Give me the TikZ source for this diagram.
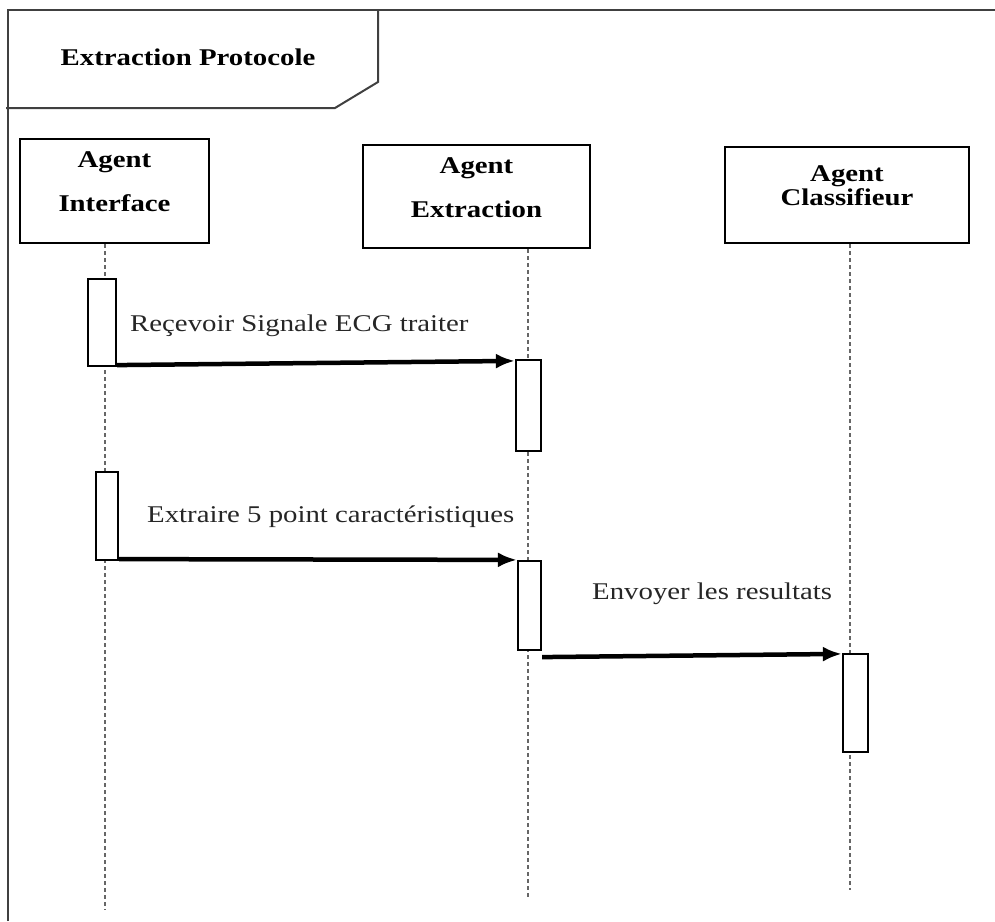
\documentclass[tikz,border=0pt]{standalone}
\usepackage{fontspec}
\usepackage{graphicx}
\usetikzlibrary{arrows.meta}
\setmainfont{Liberation Serif}
\newcommand{\wtxt}[1]{\scalebox{1.2}[1]{#1}}

\begin{document}
\begin{tikzpicture}[x=1pt, y=-1pt,
        frame/.style={draw=black!75, line width=2pt},
        agent/.style={draw, line width=2.4pt, inner sep=0pt},
        agtext/.style={font=\fontsize{24}{28}\selectfont\bfseries, align=center, inner sep=0pt},
        life/.style={draw=black!60, line width=2.2pt, dash pattern=on 4pt off 3pt},
        bar/.style={draw, fill=white, line width=2.2pt, inner sep=0pt},
        msg/.style={line width=4.5pt, -{Latex[length=19pt, width=15pt]}},
        msgtext/.style={font=\fontsize{24}{28}\selectfont, text=black!85, anchor=west, inner sep=0pt}]
        \useasboundingbox (0, 0) rectangle (995, 921);

        % frame and its title tab
        \draw[frame] (8, 921) -- (8, 10) -- (995, 10);
        \draw[frame] (378, 10) -- (378, 82) -- (335, 108) -- (6, 108);
        \node[font=\fontsize{24}{28}\selectfont\bfseries] (title) at (188, 57) {\wtxt{Extraction Protocole}};

        % the three agents
        \node[agent, minimum width=189, minimum height=104] (ia) at (114.5, 191) {};
        \node[agent, minimum width=227, minimum height=103] (ea) at (476.5, 196.5) {};
        \node[agent, minimum width=244, minimum height=96] (ca) at (847, 195) {};
        \node[agtext] (iat) at ([yshift=9]ia.center) {\wtxt{Agent}\\[16pt]\wtxt{Interface}};
        \node[agtext] (eat) at ([yshift=9]ea.center) {\wtxt{Agent}\\[16pt]\wtxt{Extraction}};
        \node[agtext] (cat) at ([yshift=9]ca.center) {\wtxt{Agent}\\[-4pt]\wtxt{Classifieur}};

        % lifelines
        \coordinate (iend) at (105, 910);
        \coordinate (eend) at (528, 898);
        \coordinate (cend) at (850, 890);
        \draw[life] (ia.south -| iend) -- (iend);
        \draw[life] (ea.south -| eend) -- (eend);
        \draw[life] (ca.south -| cend) -- (cend);

        % activation bars
        \node[bar, minimum width=28, minimum height=87] (ia1) at (102, 322.5) {};
        \node[bar, minimum width=25, minimum height=91] (ea1) at (528.5, 405.5) {};
        \node[bar, minimum width=22, minimum height=88] (ia2) at (107, 516) {};
        \node[bar, minimum width=23, minimum height=89] (ea2) at (529.5, 605.5) {};
        \node[bar, minimum width=25, minimum height=98] (ca1) at (855.5, 703) {};

        % messages
        \draw[msg] ([yshift=2]ia1.south east) -- ([yshift=-2]ea1.north west);
        \draw[msg] ([yshift=2]ia2.south east) -- (ea2.north west);
        \draw[msg] ([yshift=-6]ea2.south east) -- ([yshift=-1]ca1.north west);
        \node[msgtext] (m1) at (130, 326) {\wtxt{Reçevoir Signale ECG traiter}};
        \node[msgtext] (m2) at (147, 517) {\wtxt{Extraire 5 point caractéristiques}};
        \node[msgtext] (m3) at (592, 594) {\wtxt{Envoyer les resultats}};
    \end{tikzpicture}
\end{document}
